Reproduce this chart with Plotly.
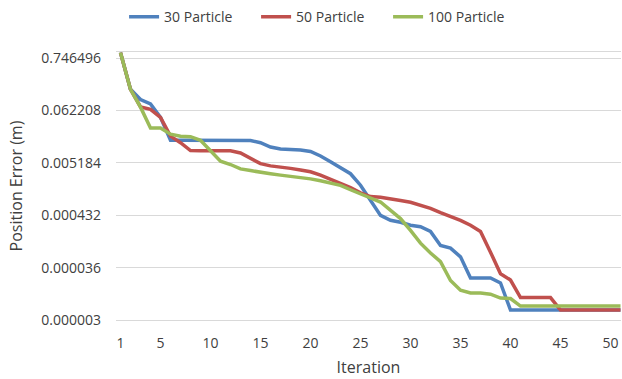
import math
import plotly.graph_objects as go

iterations = list(range(1, 52))

particle_30 = [0.97, 0.17, 0.105, 0.085, 0.045, 0.0152, 0.0151, 0.0151, 0.0151, 0.0151,
               0.0151, 0.0151, 0.0151, 0.0150, 0.0135, 0.0110, 0.0100, 0.0097, 0.0096, 0.0089,
               0.0072, 0.0055, 0.0042, 0.0031, 0.0018, 0.00088, 0.00043, 0.00034, 0.00031, 0.00027,
               0.00025, 0.00020, 0.000103, 0.000091, 0.00006, 0.000022, 0.000022, 0.000022, 0.0000174, 0.0000048,
               0.0000048, 0.0000048, 0.0000048, 0.0000048, 0.0000048, 0.0000048, 0.0000048, 0.0000048, 0.0000048, 0.0000048,
               0.0000048]

particle_50 = [0.97, 0.17, 0.074, 0.066, 0.045, 0.0185, 0.0135, 0.0093, 0.0092, 0.0092,
               0.0092, 0.0092, 0.0083, 0.0063, 0.0050, 0.0045, 0.0043, 0.0040, 0.0037, 0.0034,
               0.0029, 0.00237, 0.00198, 0.0016, 0.00125, 0.00105, 0.00102, 0.00096, 0.00087, 0.0008,
               0.0007, 0.0006, 0.00049, 0.00041, 0.00034, 0.00027, 0.0002, 0.000075, 0.000027, 0.00002,
               0.0000087, 0.0000087, 0.0000087, 0.0000087, 0.0000048, 0.0000048, 0.0000048, 0.0000048, 0.0000048, 0.0000048,
               0.0000048]

particle_100 = [0.97, 0.17, 0.073, 0.027, 0.027, 0.0203, 0.0183, 0.018, 0.0152, 0.009,
                0.0056, 0.0048, 0.0039, 0.0036, 0.0034, 0.0031, 0.0029, 0.00277, 0.0026, 0.00243,
                0.00222, 0.00198, 0.00178, 0.00145, 0.00117, 0.00098, 0.00081, 0.00056, 0.00037, 0.00021,
                0.000115, 0.000072, 0.000048, 0.0000195, 0.0000123, 0.0000108, 0.0000108, 0.0000102, 0.0000085, 0.0000083,
                0.0000058, 0.0000058, 0.0000058, 0.0000058, 0.0000058, 0.0000058, 0.0000058, 0.0000058, 0.0000058, 0.0000058,
                0.0000058]

series_names = ["30 Particle", "50 Particle", "100 Particle"]
series_colors = ["#4f81bd", "#c0504d", "#9bbb59"]

x_tick_vals = [1, 5, 10, 15, 20, 25, 30, 35, 40, 45, 50]
y_tick_vals = [0.746496, 0.062208, 0.005184, 0.000432, 0.000036, 0.00000299999]
y_tick_text = ["0.746496", "0.062208", "0.005184", "0.000432", "0.000036", "0.000003"]

FONT = "Open Sans, Liberation Sans, sans-serif"
TXT = "#404040"

fig = go.Figure()
for name, vals, col in zip(series_names, [particle_30, particle_50, particle_100], series_colors):
    fig.add_trace(go.Scatter(x=iterations, y=vals, mode="lines", name=name,
                             line=dict(color=col, width=3.5)))

fig.update_layout(
    width=622, height=379,
    margin=dict(l=116, r=1, t=52, b=59),
    paper_bgcolor="white", plot_bgcolor="white",
    font=dict(family=FONT, size=14, color=TXT),
    showlegend=True,
    legend=dict(orientation="h", x=0.016, xanchor="left", y=1.13, yanchor="middle",
                font=dict(size=14, color=TXT), itemwidth=30, tracegroupgap=0,
                entrywidth=87, entrywidthmode="pixels"),
    xaxis=dict(range=[0.55, 51.05], tickvals=x_tick_vals, showgrid=False, zeroline=False,
               showline=True, linecolor="#d9d9d9", linewidth=1, mirror=True,
               ticks="", ticklabelstandoff=10, automargin=False,
               tickfont=dict(size=14, color=TXT),
               title=dict(text="Iteration", font=dict(size=16, color=TXT), standoff=11)),
    yaxis=dict(type="log", range=[math.log10(0.00000299999), 0.0],
               tickvals=y_tick_vals, ticktext=y_tick_text,
               showgrid=True, gridcolor="#d9d9d9", gridwidth=1, zeroline=False,
               showline=False, ticks="", ticklabelstandoff=14, automargin=False,
               tickfont=dict(size=14, color=TXT),
               title=dict(text="Position Error (m)", font=dict(size=16, color=TXT), standoff=14)),
)

fig.write_html("out.html")
